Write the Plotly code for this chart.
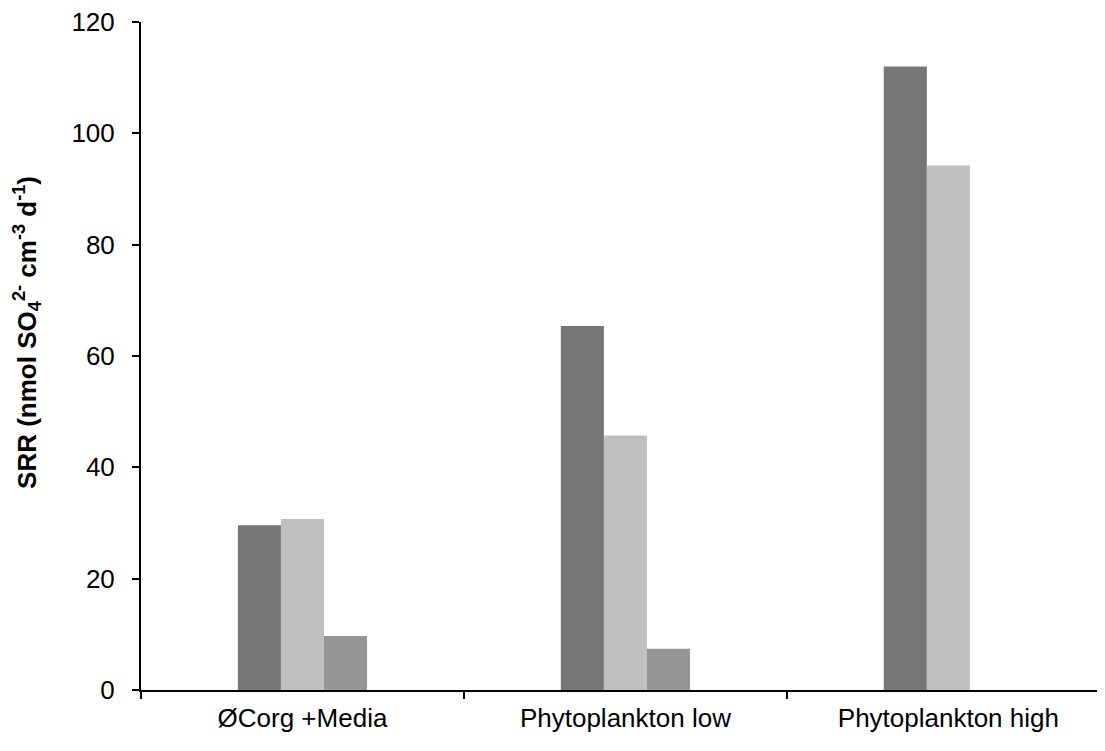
import plotly.graph_objects as go

categories = ["ØCorg +Media", "Phytoplankton low", "Phytoplankton high"]
series_a = [29.6, 65.4, 112.0]
series_b = [30.7, 45.7, 94.2]
series_c = [9.7, 7.4, None]
y_ticks = [0, 20, 40, 60, 80, 100, 120]
y_title = "<b>SRR (nmol SO<sub>4</sub><sup>2-</sup> cm<sup>-3</sup> d<sup>-1</sup>)</b>"

colors = ["#767676", "#c0c0c0", "#969696"]
FONT = "Liberation Sans, Arial, sans-serif"

fig = go.Figure()
for vals, col in zip([series_a, series_b, series_c], colors):
    fig.add_trace(go.Bar(x=categories, y=vals, marker=dict(color=col, line=dict(width=0)),
                         showlegend=False))

fig.update_layout(
    width=1105, height=751,
    margin=dict(l=133, r=8, t=14, b=69),
    plot_bgcolor="white", paper_bgcolor="white",
    barmode="group", bargap=0.6, bargroupgap=0,
    font=dict(family=FONT, size=26, color="black"),
)
fig.update_xaxes(
    range=[-0.5, 2.485], showline=True, linecolor="black", linewidth=2,
    ticks="outside", tickson="boundaries", ticklen=7, tickwidth=2, tickcolor="black",
    tickfont=dict(size=26), showgrid=False, zeroline=False, ticklabelstandoff=4,
    ticklabeloverflow="allow", automargin=False,
)
fig.update_yaxes(
    range=[0, 120], tickvals=y_ticks, showline=True, linecolor="black", linewidth=2,
    ticks="outside", ticklen=7, tickwidth=2, tickcolor="black",
    tickfont=dict(size=26), showgrid=False, zeroline=False, ticklabelstandoff=12,
    ticklabeloverflow="allow", automargin=False,
)
fig.add_annotation(
    text=y_title, xref="paper", yref="paper", x=-0.119, y=0.535,
    xanchor="center", yanchor="middle", textangle=-90, showarrow=False,
    font=dict(size=26, family=FONT, color="black"),
)
fig.write_html("out.html")
